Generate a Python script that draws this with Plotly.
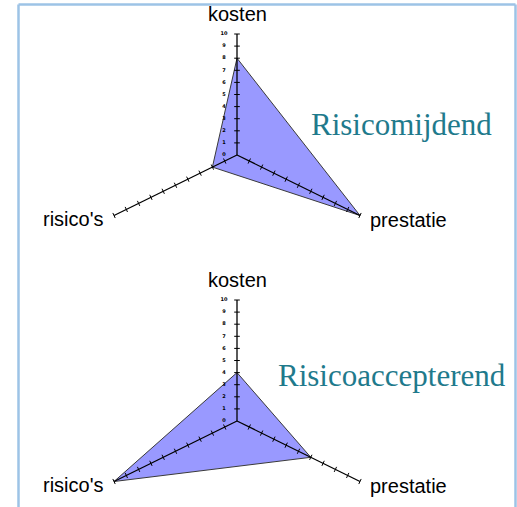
import math
import plotly.graph_objects as go

W, H = 517, 507

# assen van het spinnenweb
assen = ["kosten", "prestatie", "risico's"]
hoeken = [90, -30, 210]
r_max = 10
tick_waarden = list(range(1, 11))
tick_labels = [str(t) for t in range(0, 11)]

# scores per profiel
risicomijdend = [8, 10, 2]
risicoaccepterend = [4, 6, 10]
titels = ["Risicomijdend", "Risicoaccepterend"]
profielen = [risicomijdend, risicoaccepterend]

# layout (pixels)
SX, SY = 14.2, 12.1
centra = [(237, 155), (237, 421)]
domeinen = [(0.5, 1.0), (0.0, 0.5)]
titel_pos = [(401, 124), (392, 375)]

vul = "#9999ff"
titel_kleur = "#1f7a8c"
rand_kleur = "#9dc3e6"


def xy(r, hoek):
    return r * math.cos(math.radians(hoek)), r * math.sin(math.radians(hoek))


fig = go.Figure()
annotaties = []

for i, waarden in enumerate(profielen):
    sfx = "" if i == 0 else str(i + 1)
    xa, ya = "x" + sfx, "y" + sfx

    # polygoon
    px, py = [], []
    for v, h in zip(waarden + waarden[:1], hoeken + hoeken[:1]):
        x, y = xy(v, h)
        px.append(x)
        py.append(y)
    fig.add_trace(go.Scatter(x=px, y=py, mode="lines", fill="toself", fillcolor=vul,
                             line=dict(color="#3a3a3a", width=1), xaxis=xa, yaxis=ya,
                             hoverinfo="skip"))

    # spaken
    sx, sy = [], []
    for h in hoeken:
        x, y = xy(r_max, h)
        sx += [0, x, None]
        sy += [0, y, None]
    fig.add_trace(go.Scatter(x=sx, y=sy, mode="lines", line=dict(color="black", width=1.3),
                             xaxis=xa, yaxis=ya, hoverinfo="skip"))

    # tickjes op de spaken
    for h in hoeken:
        tx = [xy(t, h)[0] for t in tick_waarden]
        ty = [xy(t, h)[1] for t in tick_waarden]
        if h == 90:
            sym, ang = "line-ew", 0
        elif h == -30:
            sym, ang = "line-ns", 25
        else:
            sym, ang = "line-ns", -25
        fig.add_trace(go.Scatter(x=tx, y=ty, mode="markers", xaxis=xa, yaxis=ya,
                                 marker=dict(symbol=sym, angle=ang, size=4,
                                             line=dict(color="black", width=1)),
                                 hoverinfo="skip"))

    # minuscule waardelabels naast de kosten-as
    fig.add_trace(go.Scatter(x=[-13 / SX] * len(tick_labels), y=list(range(0, 11)),
                             mode="text", text=["<b>%s</b>" % t for t in tick_labels],
                             xaxis=xa, yaxis=ya,
                             textfont=dict(size=5, color="black", family="DejaVu Sans"),
                             hoverinfo="skip"))

    # asnamen
    for naam, h in zip(assen, hoeken):
        x, y = xy(r_max, h)
        if h == 90:
            a = dict(xanchor="center", yanchor="middle", xshift=0, yshift=20)
        elif h == -30:
            a = dict(xanchor="left", yanchor="middle", xshift=8, yshift=-4)
        else:
            a = dict(xanchor="right", yanchor="middle", xshift=-8, yshift=-3)
        annotaties.append(dict(x=x, y=y, xref=xa, yref=ya, text=naam, showarrow=False,
                               font=dict(family="Liberation Sans, Arial", size=20, color="black"),
                               **a))

    tx, ty = titel_pos[i]
    annotaties.append(dict(x=tx / W, y=1 - ty / H, xref="paper", yref="paper", text=titels[i],
                           showarrow=False, xanchor="center", yanchor="middle",
                           font=dict(family="Liberation Serif, Times New Roman", size=31,
                                     color=titel_kleur)))

    # assen zo schalen dat het centrum op de juiste pixel valt
    cx, cy = centra[i]
    d0, d1 = domeinen[i]
    top_px = (1 - d1) * H
    bot_px = (1 - d0) * H
    fig.layout["xaxis" + sfx] = dict(domain=[0, 1], range=[-cx / SX, (W - cx) / SX],
                                     visible=False, fixedrange=True)
    fig.layout["yaxis" + sfx] = dict(domain=[d0, d1],
                                     range=[-(bot_px - cy) / SY, (cy - top_px) / SY],
                                     visible=False, fixedrange=True)

# lichtblauwe kader
vormen = [
    dict(type="line", xref="paper", yref="paper", x0=18.5 / W, x1=18.5 / W, y0=0, y1=1 - 4.5 / H),
    dict(type="line", xref="paper", yref="paper", x0=18.5 / W, x1=515.5 / W,
         y0=1 - 4.5 / H, y1=1 - 4.5 / H),
    dict(type="line", xref="paper", yref="paper", x0=515.5 / W, x1=515.5 / W, y0=0, y1=1 - 4.5 / H),
]
for v in vormen:
    v["line"] = dict(color=rand_kleur, width=2.5)

fig.update_layout(width=W, height=H, margin=dict(l=0, r=0, t=0, b=0),
                  paper_bgcolor="white", plot_bgcolor="white", showlegend=False,
                  annotations=annotaties, shapes=vormen)

fig.write_html("out.html", config={"displayModeBar": False},
               post_script="document.body.style.margin='0';document.body.style.overflow='hidden';")
